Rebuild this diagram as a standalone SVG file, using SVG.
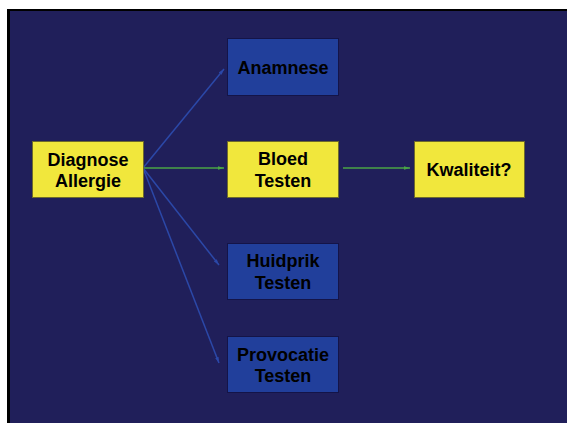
<svg xmlns="http://www.w3.org/2000/svg" width="567" height="423" viewBox="0 0 567 423">
  <style>
    .yellow rect { fill: #f1e73c; stroke: #6e6a2c; stroke-width: 1; }
    .blue rect { fill: #213f9b; stroke: #141448; stroke-width: 1; }
    text { font-family: "Liberation Sans", Arial, sans-serif; font-weight: bold; font-size: 18px; fill: #000; text-anchor: middle; }
    .green { stroke: #4aa446; stroke-width: 1.5; fill: none; marker-end: url(#ahGreen); }
    .bluel { stroke: #2b48a8; stroke-width: 1.5; fill: none; marker-end: url(#ahBlue); }
  </style>
  <defs>
    <marker id="ahGreen" viewBox="0 0 10 6" refX="10" refY="3" markerWidth="6" markerHeight="4" markerUnits="userSpaceOnUse" orient="auto">
      <path d="M0,0 L10,3 L0,6 z" fill="#4aa446"/>
    </marker>
    <marker id="ahBlue" viewBox="0 0 10 6" refX="10" refY="3" markerWidth="6" markerHeight="4" markerUnits="userSpaceOnUse" orient="auto">
      <path d="M0,0 L10,3 L0,6 z" fill="#2b48a8"/>
    </marker>
  </defs>

  <!-- page -->
  <rect x="0" y="0" width="567" height="423" fill="#ffffff"/>
  <rect x="7" y="9" width="560" height="414" fill="#000000"/>
  <rect x="10" y="11" width="557" height="412" fill="#201f5a"/>

  <!-- connectors -->
  <g id="connectors">
    <line class="bluel" x1="143" y1="168" x2="224" y2="69"/>
    <line class="green" x1="143" y1="168" x2="224" y2="168"/>
    <line class="bluel" x1="143" y1="168" x2="219" y2="265"/>
    <line class="bluel" x1="143" y1="168" x2="219" y2="363"/>
    <line class="green" x1="343" y1="168" x2="410" y2="168"/>
  </g>

  <g id="diagnose" class="yellow">
    <rect x="32.5" y="141.5" width="111" height="56"/>
    <text x="88" y="166">Diagnose</text>
    <text x="88" y="187">Allergie</text>
  </g>

  <g id="anamnese" class="blue">
    <rect x="227.5" y="38.5" width="111" height="57"/>
    <text x="283" y="74">Anamnese</text>
  </g>

  <g id="bloed" class="yellow">
    <rect x="227.5" y="141.5" width="111" height="56"/>
    <text x="283" y="165">Bloed</text>
    <text x="283" y="187">Testen</text>
  </g>

  <g id="huidprik" class="blue">
    <rect x="227.5" y="243.5" width="111" height="56"/>
    <text x="283" y="267">Huidprik</text>
    <text x="283" y="289">Testen</text>
  </g>

  <g id="provocatie" class="blue">
    <rect x="227.5" y="336.5" width="111" height="56"/>
    <text x="283" y="361">Provocatie</text>
    <text x="283" y="382">Testen</text>
  </g>

  <g id="kwaliteit" class="yellow">
    <rect x="414.5" y="141.5" width="110" height="56"/>
    <text x="469" y="176">Kwaliteit?</text>
  </g>
</svg>
